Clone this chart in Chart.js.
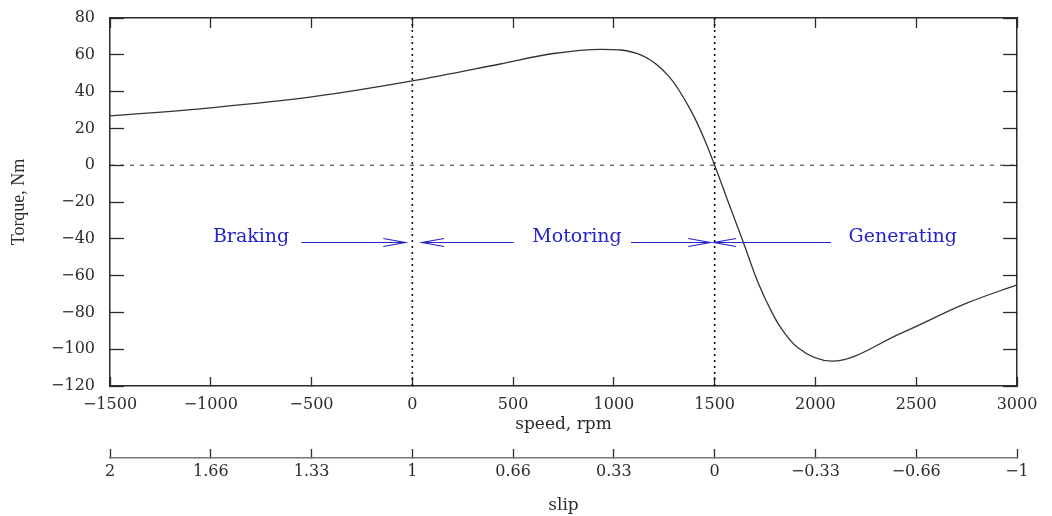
<!DOCTYPE html>
<html>
<head>
<meta charset="utf-8">
<script src="https://cdn.jsdelivr.net/npm/chart.js@4"></script>
<style>
  html, body { margin: 0; padding: 0; background: #fff; }
  canvas { display: block; }
</style>
</head>
<body>
<canvas id="torqueChart" width="1052" height="516"></canvas>
<script>
// ===== DATA =====
const speedPts  = [-1500, -1000, -500, 0, 436, 700, 935, 1136, 1275, 1381, 1451, 1500,
                   1564, 1643, 1716, 1791, 1826, 1910, 2082, 2421, 2750, 3000];
const torquePts = [26.8, 31.2, 37.1, 45.8, 55, 60.7, 63, 59.8, 48, 29.9, 13.6, 0,
                   -19, -42.2, -64, -81.5, -88, -99, -106.5, -91.5, -75, -65];

const slipLabels = ["2", "1.66", "1.33", "1", "0.66", "0.33", "0", "\u22120.33", "\u22120.66", "\u22121"];

// region markers (speed in rpm)
const boundarySpeeds = [0, 1500];
const regionLabels = ["Braking", "Motoring", "Generating"];
const labelSpeeds  = [-800, 817, 2433];
const arrowTails   = [-551, 503, 1085, 2077];
const arrowHeads   = [-35, 48, 1478, 1497];
const arrowTorque  = -42;

// ===== STYLE =====
const INK = "#2b2b2b";
const BLUE = "#2424c8";
const SERIF = "'DejaVu Serif', serif";
Chart.defaults.font.family = SERIF;
Chart.defaults.color = INK;

const minusFmt = v => String(v).replace("-", "\u2212");

// ===== ARROWS + REGION LABELS =====
const regionArrows = {
  id: "regionArrows",
  afterDatasetsDraw(chart) {
    const { ctx, scales: { x, y } } = chart;
    const yPix = y.getPixelForValue(arrowTorque);
    ctx.save();
    ctx.strokeStyle = BLUE;
    ctx.lineWidth = 1.2;
    arrowTails.forEach((tail, i) => {
      const x0 = x.getPixelForValue(tail);
      const x1 = x.getPixelForValue(arrowHeads[i]);
      const dir = Math.sign(x1 - x0);
      ctx.beginPath();
      ctx.moveTo(x0, yPix);
      ctx.lineTo(x1, yPix);
      ctx.moveTo(x1 - dir * 22, yPix - 4);
      ctx.lineTo(x1, yPix);
      ctx.lineTo(x1 - dir * 22, yPix + 4);
      ctx.stroke();
    });
    ctx.fillStyle = BLUE;
    ctx.font = "19px " + SERIF;
    ctx.textAlign = "center";
    ctx.textBaseline = "alphabetic";
    regionLabels.forEach((t, i) => ctx.fillText(t, x.getPixelForValue(labelSpeeds[i]), yPix));
    ctx.restore();
  }
};

// ===== SCALE HELPERS =====
// fixed box sizes, and no extra room asked for overhanging end labels
function fixHeight(h) {
  return s => { s.height = h; s.paddingLeft = 0; s.paddingRight = 0; };
}
function fixWidth(w) {
  return s => { s.width = w; s.paddingTop = 0; s.paddingBottom = 0; };
}
function frameAxis(extra, tickLength) {
  return Object.assign({
    type: "linear",
    border: { display: true, color: INK, width: 1.5 },
    grid: { drawOnChartArea: false, tickColor: INK, tickWidth: 1.3, tickLength: tickLength }
  }, extra);
}

const speedRange = { min: -1500, max: 3000 };
const torqueRange = { min: -120, max: 80 };

new Chart(document.getElementById("torqueChart"), {
  type: "scatter",
  data: {
    datasets: [
      {
        data: [{ x: -1500, y: 0 }, { x: 3000, y: 0 }],
        showLine: true, borderColor: INK, borderWidth: 1, borderDash: [4, 6], pointRadius: 0
      },
      ...boundarySpeeds.map(s => ({
        data: [{ x: s, y: -120 }, { x: s, y: 80 }],
        showLine: true, borderColor: "#111", borderWidth: 1.6, borderDash: [2, 4], pointRadius: 0
      })),
      {
        label: "Torque",
        data: speedPts.map((s, i) => ({ x: s, y: torquePts[i] })),
        showLine: true, borderColor: "#333", borderWidth: 1.3, pointRadius: 0,
        cubicInterpolationMode: "monotone"
      }
    ]
  },
  options: {
    responsive: false,
    animation: false,
    devicePixelRatio: 1,
    layout: { padding: { top: 18, right: 35, left: 0, bottom: 0 } },
    plugins: { legend: { display: false }, tooltip: { enabled: false } },
    scales: {
      x: frameAxis({
        position: "bottom", weight: 0, ...speedRange,
        ticks: { stepSize: 500, padding: 18, font: { size: 16 }, color: INK, maxRotation: 0, callback: minusFmt },
        title: { display: true, text: "speed, rpm", font: { size: 17 }, color: INK, padding: { top: 0, bottom: 23 } },
        afterFit: fixHeight(72)
      }, -9),
      slip: frameAxis({
        position: "bottom", weight: 1, ...speedRange,
        border: { display: true, color: "#777", width: 1.5 },
        ticks: { stepSize: 500, padding: 13, font: { size: 16 }, color: INK, maxRotation: 0,
                 callback: (v, i) => slipLabels[i] },
        title: { display: true, text: "slip", font: { size: 17 }, color: INK, padding: { top: 0, bottom: 0 } },
        afterFit: fixHeight(58)
      }, -9),
      xTop: frameAxis({
        position: "top", ...speedRange,
        ticks: { stepSize: 500, display: false },
        afterFit: fixHeight(0)
      }, -10),
      y: frameAxis({
        position: "left", ...torqueRange,
        ticks: { stepSize: 20, padding: 29, font: { size: 16 }, color: INK, callback: minusFmt },
        title: { display: true, text: "Torque, Nm", font: { size: 18, family: "'Liberation Serif', serif" },
                 color: INK, padding: { top: 8, bottom: 0 } },
        afterFit: fixWidth(110)
      }, -14),
      yRight: frameAxis({
        position: "right", ...torqueRange,
        ticks: { stepSize: 20, display: false },
        afterFit: fixWidth(0)
      }, -14)
    }
  },
  plugins: [regionArrows]
});
</script>
</body>
</html>
